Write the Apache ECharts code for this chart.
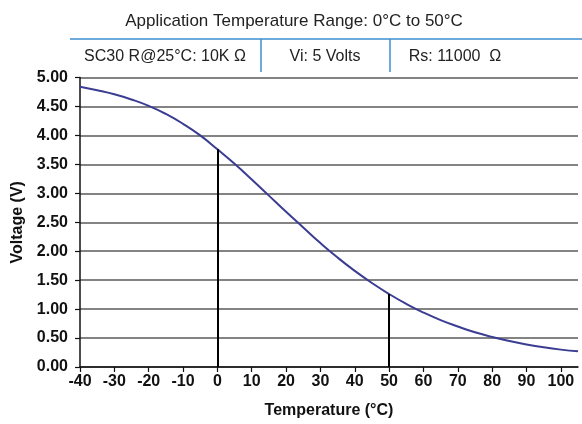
<!DOCTYPE html>
<html>
<head>
<meta charset="utf-8">
<script src="https://cdn.jsdelivr.net/npm/echarts@6/dist/echarts.min.js"></script>
<style>
  html, body { margin: 0; padding: 0; background: #fff; }
  #chart { width: 582px; height: 424px; }
</style>
</head>
<body>
<div id="chart"></div>
<script>
// temperature (°C) and divider output voltage (V)
const temps = [-40, -35, -30, -25, -20, -15, -10, -5, 0, 5, 10, 15, 20, 25, 30, 35, 40, 45, 50, 55, 60, 65, 70, 75, 80, 85, 90, 95, 100, 105]
const volts = [4.84, 4.78, 4.71, 4.62, 4.51, 4.37, 4.20, 4.00, 3.76, 3.51, 3.24, 2.96, 2.68, 2.41, 2.14, 1.89, 1.66, 1.45, 1.26, 1.09, 0.94, 0.81, 0.70, 0.60, 0.52, 0.45, 0.39, 0.34, 0.30, 0.27]
// application range ends, drawn as vertical markers
const rangeTemps = [0, 50]
const xTicks = [-40, -30, -20, -10, 0, 10, 20, 30, 40, 50, 60, 70, 80, 90, 100]

const headerTitle = 'Application Temperature Range: 0°C to 50°C'
const headerCells = ['SC30 R@25°C: 10K Ω', 'Vi: 5 Volts', 'Rs: 11000  Ω']

const chart = echarts.init(document.getElementById('chart'))

const font = '"Liberation Sans", Arial, sans-serif'
const blue = '#3d8fd1'

// marker lines from the axis up to the curve
const markers = rangeTemps.map(t => {
  const v = volts[temps.indexOf(t)]
  return [{ coord: [t, 0] }, { coord: [t, v] }]
})

const cellX = [165, 325, 455]

const option = {
  animation: false,
  grid: { left: 80, right: 4, top: 77.5, bottom: 53 },
  graphic: [
    {
      type: 'text',
      style: { text: headerTitle, x: 294, y: 21, font: '17px ' + font, fill: '#222', align: 'center', verticalAlign: 'middle' }
    },
    { type: 'line', shape: { x1: 70, y1: 39, x2: 582, y2: 39 }, style: { stroke: blue, lineWidth: 1.5 } },
    { type: 'line', shape: { x1: 261, y1: 39, x2: 261, y2: 72 }, style: { stroke: blue, lineWidth: 1.5 } },
    { type: 'line', shape: { x1: 390, y1: 39, x2: 390, y2: 72 }, style: { stroke: blue, lineWidth: 1.5 } },
    ...headerCells.map((txt, i) => ({
      type: 'text',
      style: { text: txt, x: cellX[i], y: 57, font: '16px ' + font, fill: '#222', align: 'center', verticalAlign: 'middle' }
    }))
  ],
  xAxis: {
    type: 'value',
    min: -40,
    max: 105,
    interval: 10,
    name: 'Temperature (°C)',
    nameLocation: 'middle',
    nameGap: 36,
    nameTextStyle: { fontFamily: font, fontSize: 16, fontWeight: 'bold', color: '#111' },
    axisLine: { lineStyle: { color: '#111', width: 1.5 } },
    axisTick: { show: true, length: 5, customValues: xTicks, lineStyle: { color: '#111', width: 1.2 } },
    axisLabel: { customValues: xTicks, margin: 7, fontFamily: font, fontSize: 16, fontWeight: 'bold', color: '#111' },
    splitLine: { show: false }
  },
  yAxis: {
    type: 'value',
    min: 0,
    max: 5,
    interval: 0.5,
    name: 'Voltage (V)',
    nameLocation: 'middle',
    nameGap: 53,
    nameTextStyle: { fontFamily: font, fontSize: 16, fontWeight: 'bold', color: '#111' },
    axisLine: { show: true, onZero: false, lineStyle: { color: '#111', width: 1.5 } },
    axisTick: { show: true, length: 5, lineStyle: { color: '#111', width: 1.2 } },
    axisLabel: {
      margin: 12,
      fontFamily: font, fontSize: 16, fontWeight: 'bold', color: '#111',
      formatter: v => v.toFixed(2)
    },
    splitLine: { show: true, lineStyle: { color: '#5a5a5a', width: 1.5 } }
  },
  series: [
    {
      type: 'line',
      data: temps.map((t, i) => [t, volts[i]]),
      smooth: true,
      symbol: 'none',
      lineStyle: { color: '#3b3d93', width: 2 },
      z: 3,
      markLine: {
        silent: true,
        symbol: 'none',
        label: { show: false },
        lineStyle: { color: '#000', width: 2, type: 'solid' },
        data: markers
      }
    }
  ]
}

chart.setOption(option)
</script>
</body>
</html>
